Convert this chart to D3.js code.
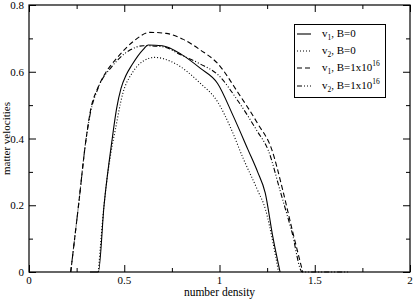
<!DOCTYPE html>
<html>
<head>
<meta charset="utf-8">
<script src="https://cdn.jsdelivr.net/npm/d3@7"></script>
<style>
  body { margin: 0; background: #fff; }
  text { font-family: "Liberation Serif", "DejaVu Serif", serif; }
</style>
</head>
<body>
<svg id="chart" width="415" height="299"></svg>
<script>
// data
var xMajor = [0, 0.5, 1, 1.5, 2];
var xMinor = [0.25, 0.75, 1.25, 1.75];
var yMajor = [0, 0.2, 0.4, 0.6, 0.8];
var yMinor = [0.1, 0.3, 0.5, 0.7];

// v1, B=0 (solid)
var v1B0 = [[0.32, 0], [0.364, 0], [0.394, 0.2], [0.437, 0.40], [0.46, 0.49], [0.483, 0.55], [0.51, 0.59],
  [0.54, 0.62], [0.60, 0.667], [0.625, 0.68], [0.70, 0.678], [0.80, 0.652], [0.90, 0.61],
  [0.99, 0.565], [1.07, 0.47], [1.15, 0.366], [1.20, 0.30], [1.24, 0.237], [1.28, 0.105], [1.318, 0]];
// v2, B=0 (dotted)
var v2B0 = [[0.364, 0], [0.394, 0.2], [0.437, 0.38], [0.451, 0.42], [0.49, 0.53], [0.546, 0.60],
  [0.60, 0.632], [0.66, 0.643], [0.756, 0.628], [0.90, 0.565], [0.99, 0.51], [1.06, 0.43],
  [1.123, 0.342], [1.20, 0.245], [1.24, 0.19], [1.28, 0.09], [1.31, 0]];
// v1, B=1x10^16 (dashed)
var v1B16 = [[0.219, 0], [0.26, 0.2], [0.30, 0.40], [0.325, 0.49], [0.36, 0.55], [0.40, 0.595], [0.46, 0.64],
  [0.546, 0.69], [0.635, 0.718], [0.72, 0.715], [0.81, 0.697], [0.90, 0.665], [0.99, 0.625],
  [1.10, 0.535], [1.20, 0.445], [1.275, 0.366], [1.33, 0.25], [1.38, 0.13], [1.437, 0]];
// v2, B=1x10^16 (dash-dot)
var v2B16 = [[0.219, 0], [0.26, 0.2], [0.30, 0.40], [0.32, 0.47], [0.362, 0.55], [0.436, 0.616],
  [0.53, 0.665], [0.60, 0.678], [0.70, 0.675], [0.80, 0.65], [0.90, 0.623], [0.99, 0.592],
  [1.10, 0.51], [1.20, 0.42], [1.255, 0.366], [1.32, 0.24], [1.38, 0.12], [1.435, 0], [1.675, 0]];

var series = [
  { name: "v", sub: "1", rest: ", B=0", sup: "", data: v1B0, dash: null },
  { name: "v", sub: "2", rest: ", B=0", sup: "", data: v2B0, dash: "1,2" },
  { name: "v", sub: "1", rest: ", B=1x10", sup: "16", data: v1B16, dash: "5,3" },
  { name: "v", sub: "2", rest: ", B=1x10", sup: "16", data: v2B16, dash: "5,2,1,2,1,2" }
];

var svg = d3.select("#chart");
var mLeft = 29, mRight = 410, mTop = 5, mBottom = 272;

var x = d3.scaleLinear().domain([0, 2]).range([mLeft, mRight]);
var y = d3.scaleLinear().domain([0, 0.8]).range([mBottom, mTop]);

// ticks, all pointing inward
function noLabel() { return ""; }
svg.append("g").attr("transform", "translate(0," + mBottom + ")")
  .call(d3.axisBottom(x).tickValues(xMajor).tickSize(-7).tickFormat(noLabel));
svg.append("g").attr("transform", "translate(0," + mBottom + ")")
  .call(d3.axisBottom(x).tickValues(xMinor).tickSize(-4).tickFormat(noLabel));
svg.append("g").attr("transform", "translate(0," + mTop + ")")
  .call(d3.axisTop(x).tickValues(xMajor).tickSize(-7).tickFormat(noLabel));
svg.append("g").attr("transform", "translate(0," + mTop + ")")
  .call(d3.axisTop(x).tickValues(xMinor).tickSize(-4).tickFormat(noLabel));
svg.append("g").attr("transform", "translate(" + mLeft + ",0)")
  .call(d3.axisLeft(y).tickValues(yMajor).tickSize(-7).tickFormat(noLabel));
svg.append("g").attr("transform", "translate(" + mLeft + ",0)")
  .call(d3.axisLeft(y).tickValues(yMinor).tickSize(-4).tickFormat(noLabel));
svg.append("g").attr("transform", "translate(" + mRight + ",0)")
  .call(d3.axisRight(y).tickValues(yMajor).tickSize(-7).tickFormat(noLabel));
svg.append("g").attr("transform", "translate(" + mRight + ",0)")
  .call(d3.axisRight(y).tickValues(yMinor).tickSize(-4).tickFormat(noLabel));
svg.selectAll(".domain").remove();
svg.selectAll(".tick line").attr("stroke", "#000");

// tick labels
svg.selectAll(".xlab").data(xMajor).enter().append("text")
  .attr("x", d => x(d)).attr("y", mBottom + 12)
  .attr("text-anchor", "middle").attr("font-size", 11)
  .text(d => d3.format("~g")(d));
svg.selectAll(".ylab").data(yMajor).enter().append("text")
  .attr("x", mLeft - 5).attr("y", d => y(d) + 4)
  .attr("text-anchor", "end").attr("font-size", 11)
  .text(d => d3.format("~g")(d));

// curves
var line = d3.line().x(d => x(d[0])).y(d => y(d[1])).curve(d3.curveMonotoneX);
svg.selectAll(".curve").data(series).enter().append("path")
  .attr("d", d => line(d.data))
  .attr("fill", "none").attr("stroke", "#000").attr("stroke-width", 1.1)
  .attr("stroke-dasharray", d => d.dash);

// frame
svg.append("rect").attr("x", mLeft).attr("y", mTop)
  .attr("width", mRight - mLeft).attr("height", mBottom - mTop)
  .attr("fill", "none").attr("stroke", "#000").attr("stroke-width", 1.2);

// axis titles
svg.append("text").attr("x", (mLeft + mRight) / 2).attr("y", 296)
  .attr("text-anchor", "middle").attr("font-size", 11.5).text("number density");
svg.append("text").attr("transform", "translate(10," + ((mTop + mBottom) / 2) + ") rotate(-90)")
  .attr("text-anchor", "middle").attr("font-size", 11).text("matter velocities");

// legend
var lg = svg.append("g");
lg.append("rect").attr("x", 294.5).attr("y", 24.5).attr("width", 91).attr("height", 73)
  .attr("fill", "#fff").attr("stroke", "#000").attr("stroke-width", 1);
var rowY = [34, 51, 68, 86];
var rows = lg.selectAll(".row").data(series).enter().append("g")
  .attr("transform", (d, i) => "translate(0," + rowY[i] + ")");
rows.append("line").attr("x1", 297).attr("x2", 311).attr("y1", 0).attr("y2", 0)
  .attr("stroke", "#000").attr("stroke-width", 1.1).attr("stroke-dasharray", d => d.dash);
var t = rows.append("text").attr("x", 322).attr("y", 3).attr("font-size", 11);
t.append("tspan").text(d => d.name);
t.append("tspan").attr("font-size", 7.5).attr("dy", 3).text(d => d.sub);
t.append("tspan").attr("dy", -3).text(d => d.rest);
t.append("tspan").attr("font-size", 7.5).attr("dy", -5).text(d => d.sup);
</script>
</body>
</html>
